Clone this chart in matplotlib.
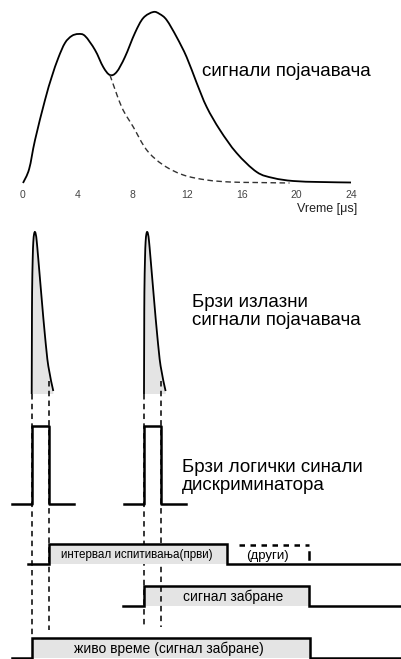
import numpy as np
import matplotlib
matplotlib.use('Agg')
import matplotlib.pyplot as plt
from matplotlib.path import Path
from matplotlib.patches import PathPatch

plt.rcParams['font.family'] = ['Liberation Sans', 'DejaVu Sans']

# --------------------------------Amplifier signal (top panel)----------------------------------------------------------
t_sum = [0, 0.45, 0.88, 1.61, 2.10, 2.58, 3.07, 3.56, 4.05, 4.54, 5.27, 5.87, 6.36, 6.85, 7.46,
         8.19, 8.80, 9.53, 10.0, 10.51, 11.24, 11.97, 12.71, 13.44, 14.41, 15.63, 17.10, 18.31,
         19.77, 21.73, 24.0]
a_sum = [0, 14, 43, 83, 106, 125, 140, 147, 149, 147, 133, 116, 108, 111, 126,
         150, 165, 171, 169, 163, 146, 126, 100, 76, 53, 30, 11, 5,
         2, 1, 0.5]
t_first = [6.36, 7.22, 8.07, 9.05, 10.26, 11.73, 13.44, 15.14, 17.0, 19.5]
a_first = [108, 76, 56, 33, 18, 8, 3, 1, 0.5, 0]
time_ticks = [0, 4, 8, 12, 16, 20, 24]

# --------------------------------Timing diagram (lower panel)----------------------------------------------------------
pulse_dx = [0, 0.2, 0.4, 1.0, 1.6, 2.4, 3.3, 4.2, 5.0, 6.6, 10.0, 13.3, 16.6, 21.6]
pulse_h = [0, 60, 102, 135, 152, 160, 162, 159, 153, 135, 95, 58, 28, 3]
hits = [31.7, 144.0]
logic_width = 17.0
interval_first = (49.3, 227.0)
interval_second = (239.0, 309.0)
inhibit = (144.0, 309.3)
live = (31.7, 310.0)


def smooth_path(xs, ys):
    # Catmull-Rom through the points, written as cubic Bezier segments
    p = np.column_stack([xs, ys]).astype(float)
    ext = np.vstack([p[0], p, p[-1]])
    verts = [p[0]]
    codes = [Path.MOVETO]
    for i in range(1, len(ext) - 2):
        p0, p1, p2, p3 = ext[i - 1], ext[i], ext[i + 1], ext[i + 2]
        verts += [p1 + (p2 - p0) / 6, p2 - (p3 - p1) / 6, p2]
        codes += [Path.CURVE4] * 3
    return Path(verts, codes)


fig = plt.figure(figsize=(4.01, 6.59), dpi=100)

ax2 = fig.add_axes([0, 0, 1, 1])
ax2.set_xlim(0, 401)
ax2.set_ylim(659, 0)
ax2.axis('off')

px = 13.667
ax1 = fig.add_axes([0, (659 - 183) / 659, 1, 183 / 659])
ax1.set_xlim(-23 / px, (401 - 23) / px)
ax1.set_ylim(0, 183)
for s in ax1.spines.values():
    s.set_visible(False)
ax1.set_yticks([])
ax1.set_xticks(time_ticks)
ax1.set_xticks(time_ticks[1:-1], minor=True)
ax1.tick_params(axis='x', which='major', length=0, pad=5, labelsize=7.5, labelcolor='#444444')
ax1.tick_params(axis='x', which='minor', length=3, direction='in', width=0.8, color='#555555')
ax1.patch.set_alpha(0)

ax1.add_patch(PathPatch(smooth_path(t_sum, a_sum), fill=False, color='black', lw=1.3,
                        clip_on=False))
ax1.add_patch(PathPatch(smooth_path(t_first, a_first), fill=False, color='#333333', lw=1.0,
                        linestyle=(0, (4, 2.5)), clip_on=False))
ax1.text(13.1, 111.5, 'сигнали појачавача', fontsize=13.5, ha='left', va='center')
ax1.text(24.45, -26, 'Vreme [μs]', fontsize=9, ha='right', va='center', color='#222222')

black = 'black'
gray = '#e4e4e4'
lw_logic = 1.8

# fast amplifier pulses
base_fast = 394
for t0 in hits:
    xs = [t0 + d for d in pulse_dx]
    ys = [base_fast - h for h in pulse_h]
    outline = smooth_path(xs, ys)
    fill_verts = list(outline.vertices) + [(xs[-1], base_fast), (t0, base_fast), (t0, base_fast)]
    fill_codes = list(outline.codes) + [Path.LINETO, Path.LINETO, Path.CLOSEPOLY]
    ax2.add_patch(PathPatch(Path(fill_verts, fill_codes), facecolor=gray, lw=0, zorder=1))
    ax2.add_patch(PathPatch(outline, fill=False, color=black, lw=1.3, zorder=4))

# fast discriminator logic pulses
logic_base, logic_top = 504, 426
for t0 in hits:
    ax2.plot([t0 - 20, t0, t0, t0 + logic_width, t0 + logic_width, t0 + logic_width + 25],
             [logic_base, logic_base, logic_top, logic_top, logic_base, logic_base],
             color=black, lw=lw_logic, zorder=4)


def gate(start, stop, left, top, base, label, fs, xtext, zfill):
    ax2.fill_between([start, stop], top, base, color=gray, lw=0, zorder=zfill)
    ax2.plot([left, start, start, stop, stop, 401],
             [base, base, top, top, base, base], color=black, lw=lw_logic,
             solid_joinstyle='miter', zorder=4)
    ax2.text(xtext, (top + base) / 2 + 1, label, fontsize=fs, ha='center', va='center',
             zorder=5)


gate(*interval_first, 28.3, 544, 564, 'интервал испитивања(први)', 8.4, 137, 3)
gate(*inhibit, 123.3, 586, 606, 'сигнал забране', 10, 233, 1)
gate(*live, 11.7, 638, 658, 'живо време (сигнал забране)', 10, 169, 1)

# second test interval, only hinted
ax2.plot(interval_second, [544.5, 544.5], color=black, lw=lw_logic, dashes=(2.2, 2.2))
ax2.plot([interval_second[1], interval_second[1]], [551.5, 559], color=black, lw=lw_logic)
ax2.text(267, 555.5, '(други)', fontsize=9.5, ha='center', va='center')

# dashed guides linking the edges
for x0, y0, y1 in [(hits[0], base_fast, 638), (hits[0] + logic_width, 381, 630),
                   (hits[1], base_fast, 627), (hits[1] + logic_width, 381, 627)]:
    ax2.plot([x0, x0], [y0, y1], color=black, lw=1.1, dashes=(3.6, 2.8), zorder=2)

ax2.text(191.7, 311.5, 'Брзи излазни\nсигнали појачавача', fontsize=13.5, ha='left',
         va='center', linespacing=1.1)
ax2.text(181.7, 476.5, 'Брзи логички синали\nдискриминатора', fontsize=13.5, ha='left',
         va='center', linespacing=1.1)

fig.savefig('out.png', dpi=100)
